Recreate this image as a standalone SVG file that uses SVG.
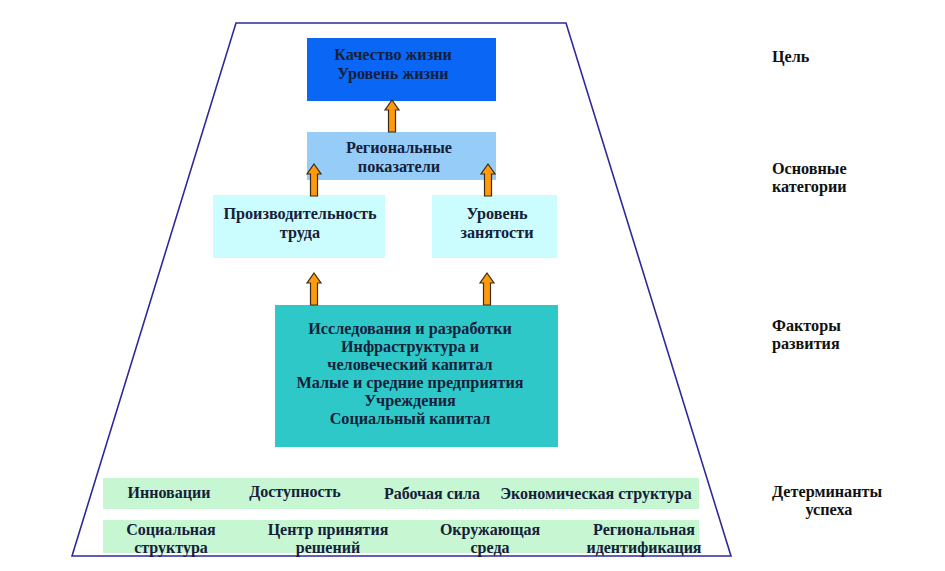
<svg xmlns="http://www.w3.org/2000/svg" xmlns:xlink="http://www.w3.org/1999/xlink" width="945" height="571" viewBox="0 0 945 571">
<style>
text{font-family:"Liberation Serif","Times New Roman",serif;font-weight:bold;fill:#15203a;text-anchor:middle}
.t16{font-size:16.2px}
.t15{font-size:16px}
.lbl{font-size:16.2px;fill:#111;text-anchor:start}
.arr{fill:#FF9A0A;stroke:#3a2a1a;stroke-width:1.2;stroke-linejoin:miter}
</style>
<defs>
<path id="up" class="arr" d="M0,0 L7,10 L3.5,10 L3.5,32 L-3.5,32 L-3.5,10 L-7,10 Z"/>
</defs>
<rect width="945" height="571" fill="#fff"/>
<g id="frame">
<polygon points="236,23 566,23 731,556 72,556" fill="none" stroke="#2e2a9a" stroke-width="1.6"/>
</g>
<g id="goal">
<rect x="307" y="38" width="189" height="63" fill="#0A66F5"/>
<text class="t16" x="393" y="60">Качество жизни</text>
<text class="t16" x="393" y="78.5">Уровень жизни</text>
</g>
<g id="regional">
<rect x="307" y="132" width="189" height="48" fill="#95CDF8"/>
<text class="t16" x="399" y="153">Региональные</text>
<text class="t16" x="399" y="172">показатели</text>
</g>
<g id="productivity">
<rect x="213" y="195" width="172" height="63" fill="#CCFDFE"/>
<text class="t16" x="300" y="219">Производительность</text>
<text class="t16" x="300" y="238">труда</text>
</g>
<g id="employment">
<rect x="432" y="195" width="125" height="63" fill="#CCFDFE"/>
<text class="t16" x="497" y="219">Уровень</text>
<text class="t16" x="497" y="238">занятости</text>
</g>
<g id="factors">
<rect x="275" y="305" width="283" height="142" fill="#2FC8C8"/>
<text class="t16" x="410" y="334">Исследования и разработки</text>
<text class="t16" x="410" y="352">Инфраструктура и</text>
<text class="t16" x="410" y="370">человеческий капитал</text>
<text class="t16" x="410" y="388">Малые и средние предприятия</text>
<text class="t16" x="410" y="406">Учреждения</text>
<text class="t16" x="410" y="424">Социальный капитал</text>
</g>
<g id="determinants1">
<rect x="103" y="478" width="596" height="31" fill="#C6F7D2"/>
<text class="t15" x="169" y="498">Инновации</text>
<text class="t15" x="295" y="497">Доступность</text>
<text class="t15" x="432" y="499">Рабочая сила</text>
<text class="t15" x="596" y="499">Экономическая структура</text>
</g>
<g id="determinants2">
<rect x="103" y="520" width="596" height="33" fill="#C6F7D2"/>
<text class="t15" x="171" y="535">Социальная</text>
<text class="t15" x="171" y="553">структура</text>
<text class="t15" x="328" y="535">Центр принятия</text>
<text class="t15" x="328" y="553">решений</text>
<text class="t15" x="490" y="535">Окружающая</text>
<text class="t15" x="490" y="553">среда</text>
<text class="t15" x="644" y="535">Региональная</text>
<text class="t15" x="644" y="553">идентификация</text>
</g>
<g id="connectors">
<use xlink:href="#up" href="#up" x="392" y="100"/>
<use xlink:href="#up" href="#up" x="314" y="164"/>
<use xlink:href="#up" href="#up" x="488" y="164"/>
<use xlink:href="#up" href="#up" x="314" y="273"/>
<use xlink:href="#up" href="#up" x="487" y="273"/>
</g>
<g id="labels">
<text class="lbl" x="772" y="62">Цель</text>
<text class="lbl" x="772" y="174">Основные</text>
<text class="lbl" x="772" y="192">категории</text>
<text class="lbl" x="772" y="331">Факторы</text>
<text class="lbl" x="772" y="349">развития</text>
<text class="lbl" x="772" y="497">Детерминанты</text>
<text class="lbl" x="829" y="515" style="text-anchor:middle">успеха</text>
</g>
</svg>
